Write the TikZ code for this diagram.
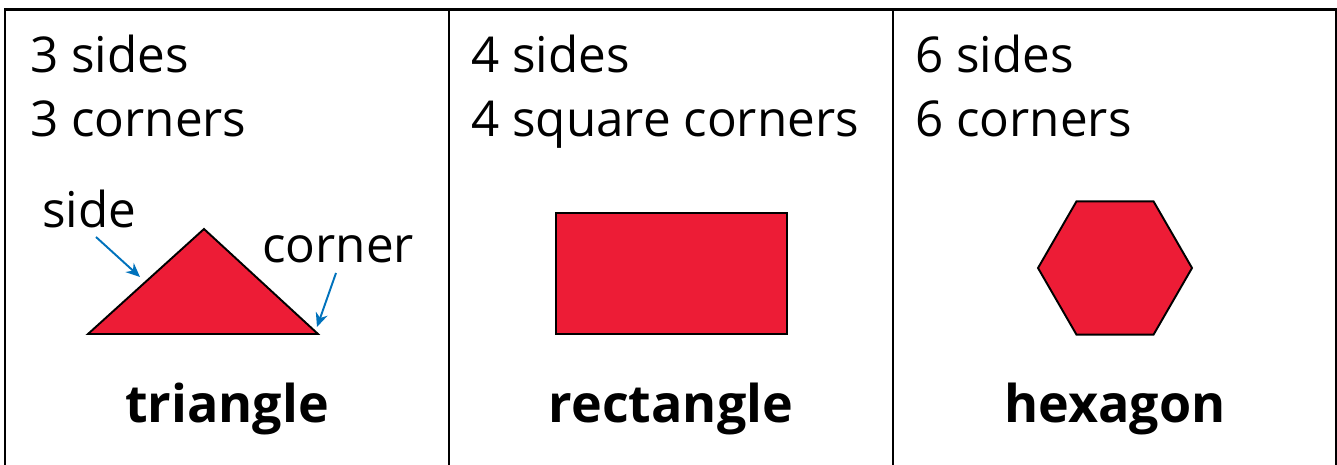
\documentclass[tikz,border=0pt]{standalone}
\usepackage{fontspec}
\setmainfont{Open Sans}
\usepackage{xcolor}
\definecolor{shapered}{RGB}{237,28,54}
\definecolor{arrowblue}{RGB}{0,114,188}
\usetikzlibrary{arrows.meta}

\begin{document}
\begin{tikzpicture}[x=0.02cm,y=-0.02cm,
  frame/.style={draw=black,line width=1.3pt},
  figfill/.style={draw=black,line width=1.1pt,fill=shapered,line join=miter},
  info/.style={anchor=base west,inner sep=0pt,font=\fontsize{28.1}{33}\selectfont},
  title/.style={anchor=base,inner sep=0pt,font=\fontsize{29.6}{34}\selectfont\bfseries},
  pointer/.style={-{Stealth[length=8pt,width=7pt]},arrowblue,line width=1.1pt}]
  \useasboundingbox (0,0) rectangle (1337,465);
  % Table frame
  \draw[frame] (5,465) |- (1336,9.5) -- (1336,465);
  \foreach \xd in {449,893}{
    \draw[frame] (\xd,9.5) -- (\xd,465);
  }
  % Counts
  \node[info] (sidesA) at (30,73) {3 sides};
  \node[info] (cornersA) at (30,137) {3 corners};
  \node[info] (sidesB) at (471,73) {4 sides};
  \node[info] (cornersB) at (471,137) {4 square corners};
  \node[info] (sidesC) at (915,73) {6 sides};
  \node[info] (cornersC) at (915,137) {6 corners};
  % Shapes
  \draw[figfill] (88,334) -- (204,229) -- (318,334) -- cycle;
  \draw[figfill] (556,213) rectangle (787,334);
  \draw[figfill,shift={(1115,268)}] (0:77) \foreach \a in {60,120,...,300}{ -- (\a:77)} -- cycle;
  % Pointers on the triangle
  \node[info] (sidelbl) at (42,228) {side};
  \node[info] (cornerlbl) at (262,263) {corner};
  \coordinate (sidefrom) at (96,237);
  \coordinate (sideto) at (140,277);
  \coordinate (cornerfrom) at (336,273);
  \coordinate (cornerto) at (317,327);
  \draw[pointer] (sidefrom) -- (sideto);
  \draw[pointer] (cornerfrom) -- (cornerto);
  % Names
  \node[title] (triname) at (227,422) {triangle};
  \node[title] (rectname) at (671,422) {rectangle};
  \node[title] (hexname) at (1115,422) {hexagon};
\end{tikzpicture}
\end{document}
